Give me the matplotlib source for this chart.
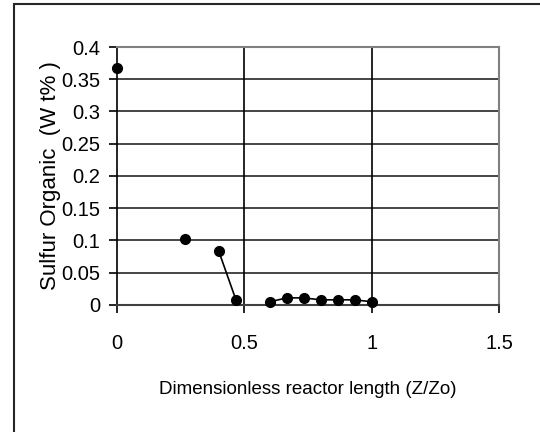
import numpy as np
import matplotlib.pyplot as plt
from matplotlib.patches import Rectangle

# reactor position (Z/Zo) and organic sulfur (wt%)
z = [0.0, 0.267, 0.4, 0.467, 0.6, 0.667, 0.733, 0.8, 0.867, 0.933, 1.0]
sulfur = [0.367, 0.102, 0.083, 0.008, 0.005, 0.011, 0.011, 0.008, 0.008, 0.008, 0.005]
# points with the same run number are joined by a line
run = [0, 1, 2, 2, 3, 3, 3, 3, 3, 3, 3]

xticks = [0, 0.5, 1, 1.5]
yticks = [0, 0.05, 0.1, 0.15, 0.2, 0.25, 0.3, 0.35, 0.4]

plt.rcParams['font.family'] = ['Liberation Sans', 'DejaVu Sans']

fig = plt.figure(figsize=(5.4, 4.32), dpi=100)
ax = fig.add_axes([0.2167, 0.294, 0.7073, 0.5972])

z = np.array(z)
sulfur = np.array(sulfur)
run = np.array(run)
for r in np.unique(run):
    m = run == r
    ax.plot(z[m], sulfur[m], color='black', lw=1.2, marker='o',
            markersize=7, markerfacecolor='black', zorder=3, clip_on=False)

ax.set_xlim(0, 1.5)
ax.set_ylim(0, 0.4)
ax.set_xticks(xticks)
ax.set_xticklabels(['0', '0.5', '1', '1.5'])
ax.set_yticks(yticks)
ax.set_yticklabels(['0', '0.05', '0.1', '0.15', '0.2', '0.25', '0.3', '0.35', '0.4'])

for y in yticks[1:-1]:
    ax.axhline(y, color='0.15', lw=1.2, zorder=1)
for x in [0.5, 1.0]:
    ax.axvline(x, color='black', lw=1.2, zorder=1)

for s in ['top', 'right']:
    ax.spines[s].set_color('0.5')
    ax.spines[s].set_linewidth(1.5)
ax.spines['left'].set_color('black')
ax.spines['bottom'].set_color('0.25')
ax.spines['left'].set_linewidth(1.2)
ax.spines['bottom'].set_linewidth(1.5)

ax.tick_params(axis='both', direction='out', length=6, width=1.2, labelsize=14.5)
ax.tick_params(axis='x', pad=15)
ax.tick_params(axis='y', pad=6)

ax.set_xlabel('Dimensionless reactor length (Z/Zo)', fontsize=13.5, labelpad=20)
ax.set_ylabel('Sulfur Organic  (W t% )', fontsize=16)
ax.yaxis.set_label_coords(-0.146, 0.5)

fig.patches.append(Rectangle((0.026, -0.2), 1.2, 1.1907, transform=fig.transFigure,
                             fill=False, edgecolor='0.15', lw=1.5))

fig.savefig('out.png', dpi=100)
